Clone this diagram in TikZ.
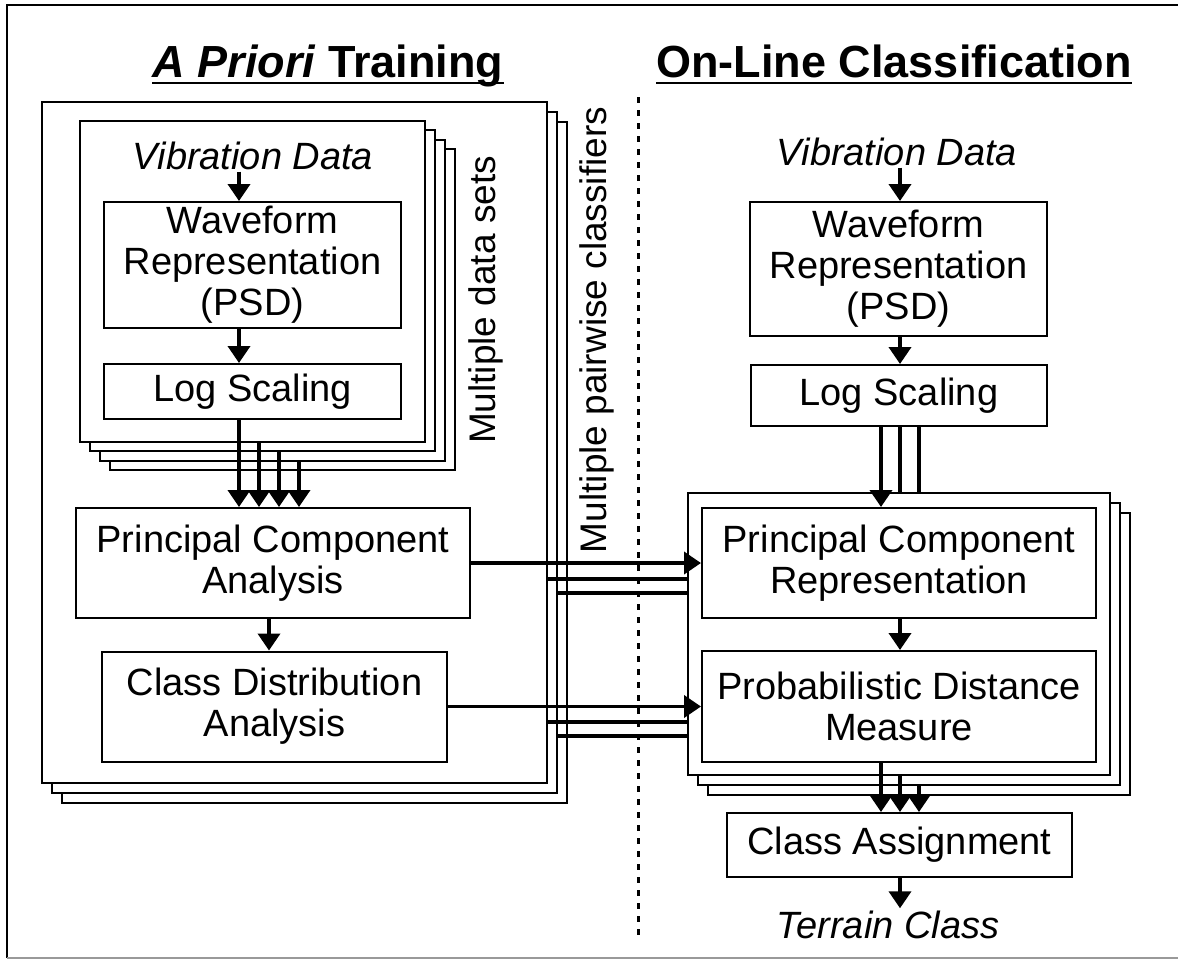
\documentclass[tikz,border=0pt]{standalone}
\usepackage{fontspec}
\setmainfont{Liberation Sans}
\usetikzlibrary{arrows.meta}
\newcommand\boxfont{\fontsize{38}{41}\selectfont}
\newcommand\sidefont{\fontsize{37}{40}\selectfont}
\newcommand\headfont{\fontsize{45}{50}\selectfont\bfseries}
\begin{document}
\begin{tikzpicture}[x=1pt,y=-1pt,
  box/.style={draw, line width=2pt, fill=white, inner sep=0pt, align=center, font=\boxfont},
  sheet/.style={draw, line width=2pt, fill=white, inner sep=0pt},
  lbl/.style={inner sep=2pt, anchor=base, font=\boxfont\itshape},
  side/.style={inner sep=0pt, anchor=base, rotate=90, font=\sidefont},
  head/.style={inner sep=0pt, anchor=base, font=\headfont},
  wire/.style={line width=3.8pt},
  arr/.style={wire, -{Triangle[length=17pt,width=22pt]}},
  divider/.style={line width=3pt, dash pattern=on 6pt off 7pt}]
\useasboundingbox (0,0) rectangle (1178,962);

% page frame
\draw[line width=1.5pt] (1178,5) -- (7,5) -- (7,958);
\draw[line width=1.5pt, black!40] (7,958) -- (1178,958);

% headings
\node[head] (ttlL) at (328,77) {\textit{A Priori} Training};
\node[head] (ttlR) at (894,77) {On-Line Classification};
\draw[line width=2.5pt] ([yshift=-6pt]ttlL.base west) -- ([yshift=-6pt]ttlL.base east);
\draw[line width=2.5pt] ([yshift=-6pt]ttlR.base west) -- ([yshift=-6pt]ttlR.base east);

% separator between training and classification
\coordinate (sepT) at (638,97);
\coordinate (sepB) at (638,937);
\draw[divider] (sepT) -- (sepB);

% ---------- training side ----------
% stack of pairwise classifiers
\node[sheet, minimum width=505pt, minimum height=681pt] (bigL3) at (314.5,462.5) {};
\node[sheet, minimum width=505pt, minimum height=681pt] (bigL2) at (304.5,452.5) {};
\node[sheet, minimum width=505pt, minimum height=681pt] (bigL1) at (294.5,442.5) {};
% stack of data sets
\node[sheet, minimum width=345pt, minimum height=321pt] (dsL4) at (282.5,309.5) {};
\node[sheet, minimum width=345pt, minimum height=321pt] (dsL3) at (272.5,300.2) {};
\node[sheet, minimum width=345pt, minimum height=321pt] (dsL2) at (262.5,290.8) {};
\node[sheet, minimum width=345pt, minimum height=321pt] (dsL1) at (252.5,281.5) {};

\node[lbl] (vdL) at (253,169) {Vibration Data};
\node[box, minimum width=297pt, minimum height=126pt] (wfL) at (252.5,265) {Waveform\\Representation\\(PSD)};
\node[box, minimum width=297pt, minimum height=55pt] (logL) at (252.5,391.5) {Log Scaling};
\node[box, minimum width=394pt, minimum height=110pt] (pcaL) at (273,563) {Principal Component\\Analysis};
\node[box, minimum width=345pt, minimum height=110pt] (cdaL) at (274.5,706.5) {Class Distribution\\Analysis};

\node[side] (msets) at (495,300) {Multiple data sets};
\node[side] (mpair) at (606,330) {Multiple pairwise classifiers};

% ---------- classification side ----------
\node[lbl] (vdR) at (897,165) {Vibration Data};
\node[box, minimum width=297pt, minimum height=134pt] (wfR) at (898.5,269) {Waveform\\Representation\\(PSD)};
\node[box, minimum width=296pt, minimum height=61pt] (logR) at (899,395.5) {Log Scaling};

\node[sheet, minimum width=422pt, minimum height=282pt] (stR3) at (919,654) {};
\node[sheet, minimum width=422pt, minimum height=282pt] (stR2) at (909,644) {};
\node[sheet, minimum width=422pt, minimum height=282pt] (stR1) at (899,634) {};
\node[box, minimum width=394pt, minimum height=110pt] (pcR) at (899,563) {Principal Component\\Representation};
\node[box, minimum width=394pt, minimum height=111pt] (pdR) at (899,706.5) {Probabilistic Distance\\Measure};

\node[box, minimum width=345pt, minimum height=64pt] (caR) at (899.5,845) {Class Assignment};
\node[lbl] (tcR) at (888,938) {Terrain Class};

% wire positions
\coordinate (xa) at (239,0);
\coordinate (xb) at (259,0);
\coordinate (xc) at (279,0);
\coordinate (xd) at (299,0);
\coordinate (xe) at (269,0);
\coordinate (xr1) at (881,0);
\coordinate (xr2) at (900,0);
\coordinate (xr3) at (919,0);
\coordinate (ya) at (0,579);
\coordinate (yb) at (0,593);
\coordinate (yc) at (0,722);
\coordinate (yd) at (0,736);

% training flow
\draw[arr] (vdL.south -| xa) -- (wfL.north -| xa);
\draw[arr] (wfL.south -| xa) -- (logL.north -| xa);
\draw[arr] (logL.south -| xa) -- (pcaL.north -| xa);
\draw[arr] (dsL1.south -| xb) -- (pcaL.north -| xb);
\draw[arr] (dsL2.south -| xc) -- (pcaL.north -| xc);
\draw[arr] (dsL3.south -| xd) -- (pcaL.north -| xd);
\draw[arr] (pcaL.south -| xe) -- (cdaL.north -| xe);

% classification flow
\draw[arr] (vdR.south -| xr2) -- (wfR.north -| xr2);
\draw[arr] (wfR.south -| xr2) -- (logR.north -| xr2);
\draw[arr] (logR.south -| xr1) -- (pcR.north -| xr1);
\draw[wire] (logR.south -| xr2) -- (stR1.north -| xr2);
\draw[wire] (logR.south -| xr3) -- (stR1.north -| xr3);
\draw[arr] (pcR.south -| xr2) -- (pdR.north -| xr2);
\draw[arr] (pdR.south -| xr1) -- (caR.north -| xr1);
\draw[arr] (stR1.south -| xr2) -- (caR.north -| xr2);
\draw[arr] (stR2.south -| xr3) -- (caR.north -| xr3);
\draw[arr] (caR.south -| xr2) -- (tcR.north -| xr2);

% trained models handed over
\draw[arr] (pcaL) -- (pcR);
\draw[wire] (bigL1.east |- ya) -- (stR1.west |- ya);
\draw[wire] (bigL2.east |- yb) -- (stR1.west |- yb);
\draw[arr] (cdaL) -- (pdR);
\draw[wire] (bigL1.east |- yc) -- (stR1.west |- yc);
\draw[wire] (bigL2.east |- yd) -- (stR1.west |- yd);
\end{tikzpicture}
\end{document}
